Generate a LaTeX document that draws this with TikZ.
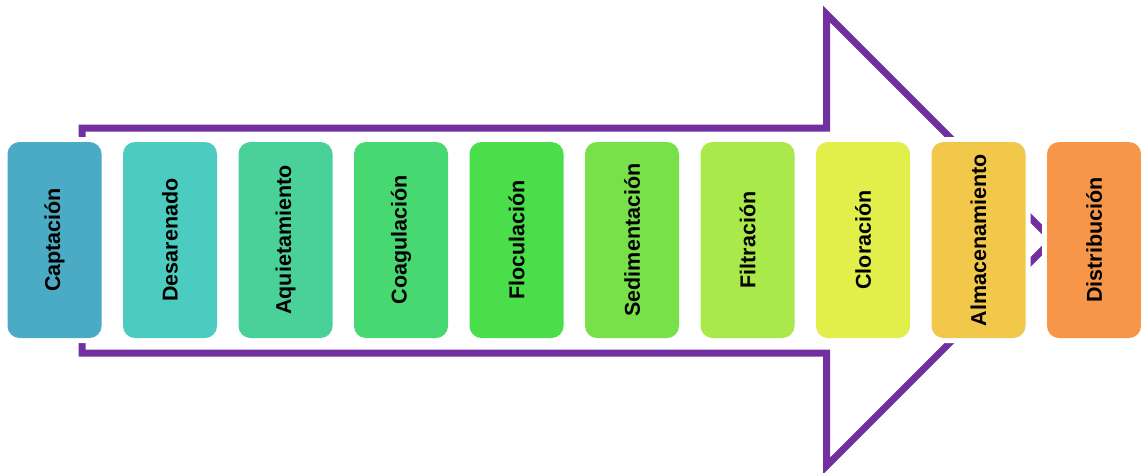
\documentclass[tikz,border=0pt]{standalone}
\usepackage{fontspec}
\setmainfont{Liberation Sans}
\usepackage{graphicx}
\definecolor{arrowpurple}{RGB}{112,48,160}
\definecolor{c1}{RGB}{75,171,197}
\definecolor{c2}{RGB}{76,204,192}
\definecolor{c3}{RGB}{74,209,153}
\definecolor{c4}{RGB}{72,216,114}
\definecolor{c5}{RGB}{74,222,74}
\definecolor{c6}{RGB}{120,225,74}
\definecolor{c7}{RGB}{170,233,74}
\definecolor{c8}{RGB}{226,238,74}
\definecolor{c9}{RGB}{242,200,74}
\definecolor{c10}{RGB}{247,150,72}
\tikzset{
  stepbox/.style={rectangle, rounded corners=12pt, minimum width=94pt, minimum height=196pt,
    inner sep=0pt, fill=#1, preaction={draw=white, line width=10pt},
    font=\fontsize{21.5}{24}\selectfont\bfseries, text=black},
  bigarrow/.style={draw=arrowpurple, line width=7pt, line join=miter}
}
\begin{document}
\begin{tikzpicture}[x=1pt,y=-1pt]
\useasboundingbox (0,0) rectangle (1141,472);
\draw[bigarrow] (82,128) -- (826.5,128) -- (826.5,14) -- (1052.5,240) -- (826.5,466) -- (826.5,353) -- (82,353) -- cycle;
\node[stepbox=c1]  (n1)  at (54.5,240)  {\rotatebox{90}{Captación}};
\node[stepbox=c2]  (n2)  at (170,240)   {\rotatebox{90}{Desarenado}};
\node[stepbox=c3]  (n3)  at (285.5,240) {\rotatebox{90}{Aquietamiento}};
\node[stepbox=c4]  (n4)  at (401,240)   {\rotatebox{90}{Coagulación}};
\node[stepbox=c5]  (n5)  at (516.5,240) {\rotatebox{90}{Floculación}};
\node[stepbox=c6]  (n6)  at (632,240)   {\rotatebox{90}{Sedimentación}};
\node[stepbox=c7]  (n7)  at (747.5,240) {\rotatebox{90}{Filtración}};
\node[stepbox=c8]  (n8)  at (863,240)   {\rotatebox{90}{Cloración}};
\node[stepbox=c9]  (n9)  at (978.5,240) {\rotatebox{90}{Almacenamiento}};
\node[stepbox=c10] (n10) at (1094,240)  {\rotatebox{90}{Distribución}};
\end{tikzpicture}
\end{document}
